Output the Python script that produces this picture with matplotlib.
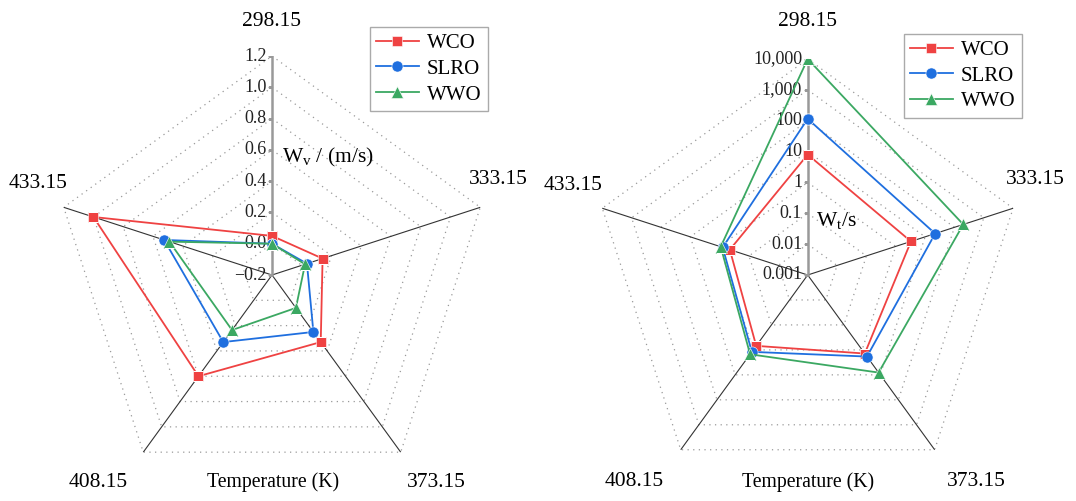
import matplotlib
matplotlib.use('Agg')
import matplotlib.pyplot as plt
import matplotlib.font_manager as fm
import numpy as np

# pick a Times-like serif that is actually installed
installed = {f.name for f in fm.fontManager.ttflist}
serif = next((n for n in ['Liberation Serif', 'Tinos', 'Nimbus Roman', 'Times New Roman',
                          'Noto Serif', 'DejaVu Serif'] if n in installed), 'serif')

plt.rcParams.update({
    'font.family': [serif, 'DejaVu Serif'],
    'mathtext.fontset': 'custom',
    'mathtext.rm': serif,
    'mathtext.it': serif + ':italic',
    'font.size': 15,
})

# data
temps = ['298.15', '333.15', '373.15', '408.15', '433.15']
series = ['WCO', 'SLRO', 'WWO']

# W_v (m/s)
wv_wco = [0.05, 0.14, 0.33, 0.60, 1.00]
wv_slro = [0.0, 0.035, 0.25, 0.33, 0.525]
wv_wwo = [0.0, 0.022, 0.06, 0.235, 0.49]
wv_ticks = [-0.2, 0.0, 0.2, 0.4, 0.6, 0.8, 1.0, 1.2]
wv_ticklabels = ['\u22120.2', '0.0', '0.2', '0.4', '0.6', '0.8', '1.0', '1.2']

# W_t (s)
wt_wco = [8, 3.3, 1.4, 0.69, 0.45]
wt_slro = [115, 22, 1.85, 1.2, 0.79]
wt_wwo = [10000, 200, 8.1, 1.5, 0.92]
wt_ticks = [0.001, 0.01, 0.1, 1, 10, 100, 1000, 10000]
wt_ticklabels = ['0.001', '0.01', '0.1', '1', '10', '100', '1,000', '10,000']

C_RED = '#EF4242'
C_BLUE = '#1F6FDF'
C_GREEN = '#3BA862'
styles = [dict(color=C_RED, marker='s', ms=7),
          dict(color=C_BLUE, marker='o', ms=8),
          dict(color=C_GREEN, marker='^', ms=8.5)]

theta = np.linspace(0, 2 * np.pi, len(temps), endpoint=False)
theta_c = np.append(theta, theta[0])


def radar(ax, levels, ticklabels):
    rmin, rmax = levels[0], levels[-1]
    ax.set_theta_zero_location('N')
    ax.set_theta_direction(-1)
    ax.set_ylim(rmin, rmax)
    ax.grid(False)
    ax.set_xticks([])
    ax.set_yticks([])
    ax.spines['polar'].set_visible(False)
    ax.patch.set_visible(False)
    for lv in levels[1:]:
        ax.plot(theta_c, [lv] * len(theta_c), ls=(0, (1, 3.5)), color='#999999', lw=0.9, zorder=1)
    for t in theta[1:]:
        ax.plot([t, t], [rmin, rmax], color='#333333', lw=0.8, zorder=2)
    ax.plot([0, 0], [rmin, rmax], color='#999999', lw=1.8, zorder=2)
    ax.plot([0] * len(levels), levels, ls='none', marker=0, ms=3, mew=1, color='#999999', zorder=2)
    for lv, lab in zip(levels, ticklabels):
        ax.annotate(lab, xy=(0, lv), xytext=(-4, 0), textcoords='offset points',
                    ha='right', va='center', fontsize=13, color='#222222')


def labels(ax, pos):
    for t, (x, y) in zip(temps, pos):
        ax.text(x, y, t, transform=ax.transAxes, ha='center', va='center', fontsize=15.5)


fig = plt.figure(figsize=(10.76, 5.01), dpi=100)

# left: W_v
ax1 = fig.add_axes([0.04926, 0.01397, 0.40706, 0.87425], projection='polar')
radar(ax1, wv_ticks, wv_ticklabels)
for name, vals, st in zip(series, [wv_wco, wv_slro, wv_wwo], styles):
    ax1.plot(theta_c, vals + vals[:1], lw=1.3, mec='white', mew=0.4, label=name, zorder=5, **st)
labels(ax1, [(0.499, 1.078), (1.016, 0.719), (0.876, 0.027), (0.103, 0.027), (-0.034, 0.710)])
ax1.text(0.502, 0.027, 'Temperature (K)', transform=ax1.transAxes, ha='center', va='center', fontsize=14.2)
ax1.text(0.628, 0.769, r'W$_{\mathrm{v}}$ / (m/s)', transform=ax1.transAxes, ha='center', va='center', fontsize=15.5)

# right: W_t (log)
ax2 = fig.add_axes([0.5499, 0.01996, 0.4015, 0.8623], projection='polar')
radar(ax2, np.log10(wt_ticks), wt_ticklabels)
for name, vals, st in zip(series, [wt_wco, wt_slro, wt_wwo], styles):
    r = np.log10(vals)
    ax2.plot(theta_c, np.append(r, r[0]), lw=1.3, mec='white', mew=0.4, label=name, zorder=5, **st)
labels(ax2, [(0.5005, 1.087), (1.028, 0.720), (0.890, 0.021), (0.098, 0.021), (-0.044, 0.708)])
ax2.text(0.5005, 0.021, 'Temperature (K)', transform=ax2.transAxes, ha='center', va='center', fontsize=14.2)
ax2.text(0.566, 0.627, r'W$_{\mathrm{t}}$/s', transform=ax2.transAxes, ha='center', va='center', fontsize=15.5)

for ax, anchor in [(ax1, (488 / 1076, 1 - 27 / 501)), (ax2, (1022 / 1076, 1 - 34 / 501))]:
    leg = ax.legend(loc='upper right', bbox_to_anchor=anchor, bbox_transform=fig.transFigure,
                    borderaxespad=0, fancybox=False, edgecolor='#aaaaaa', framealpha=1,
                    fontsize=15, handlelength=2.05, handletextpad=0.4, labelspacing=0.3,
                    borderpad=0.3)
    leg.get_frame().set_linewidth(1.0)

fig.savefig('out.png', dpi=100)
